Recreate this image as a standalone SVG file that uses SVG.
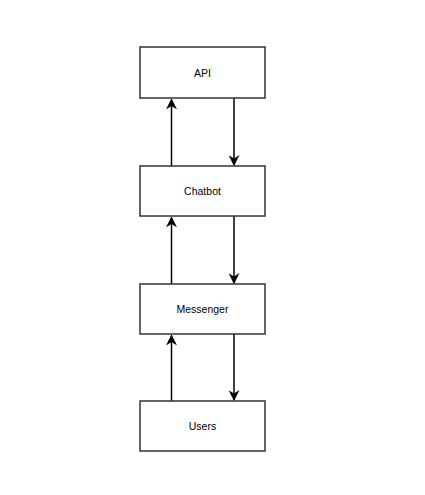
<svg xmlns="http://www.w3.org/2000/svg" width="425" height="495" viewBox="0 0 425 495">
<style>
.box{fill:#fff;stroke:#333;stroke-width:1.5}
.lbl{font-family:"Liberation Sans",Arial,sans-serif;font-size:10.5px;fill:#000;text-anchor:middle;dominant-baseline:central}
.edge{stroke:#000;stroke-width:1.5;fill:none}
</style>
<defs>
<marker id="ah" viewBox="0 0 10 10" refX="9" refY="5" markerWidth="11" markerHeight="11" markerUnits="userSpaceOnUse" orient="auto"><path d="M0,0 L10,5 L0,10 L3,5 Z" fill="#000"/></marker>
</defs>
<rect width="425" height="495" fill="#fff"/>
<g id="connectors">
<path class="edge" d="M171.5,166 V99.5" marker-end="url(#ah)"/>
<path class="edge" d="M234,98 V165" marker-end="url(#ah)"/>
<path class="edge" d="M171.5,284 V217.5" marker-end="url(#ah)"/>
<path class="edge" d="M234,216 V283" marker-end="url(#ah)"/>
<path class="edge" d="M171.5,401 V335.5" marker-end="url(#ah)"/>
<path class="edge" d="M234,334 V400" marker-end="url(#ah)"/>
</g>
<g id="api"><rect class="box" x="140" y="47" width="125" height="51"/><text class="lbl" x="202.5" y="72.5">API</text></g>
<g id="chatbot"><rect class="box" x="140" y="166" width="125" height="50"/><text class="lbl" x="202.5" y="191">Chatbot</text></g>
<g id="messenger"><rect class="box" x="140" y="284" width="125" height="50"/><text class="lbl" x="202.5" y="309">Messenger</text></g>
<g id="users"><rect class="box" x="140" y="401" width="125" height="50"/><text class="lbl" x="202.5" y="426">Users</text></g>
</svg>
